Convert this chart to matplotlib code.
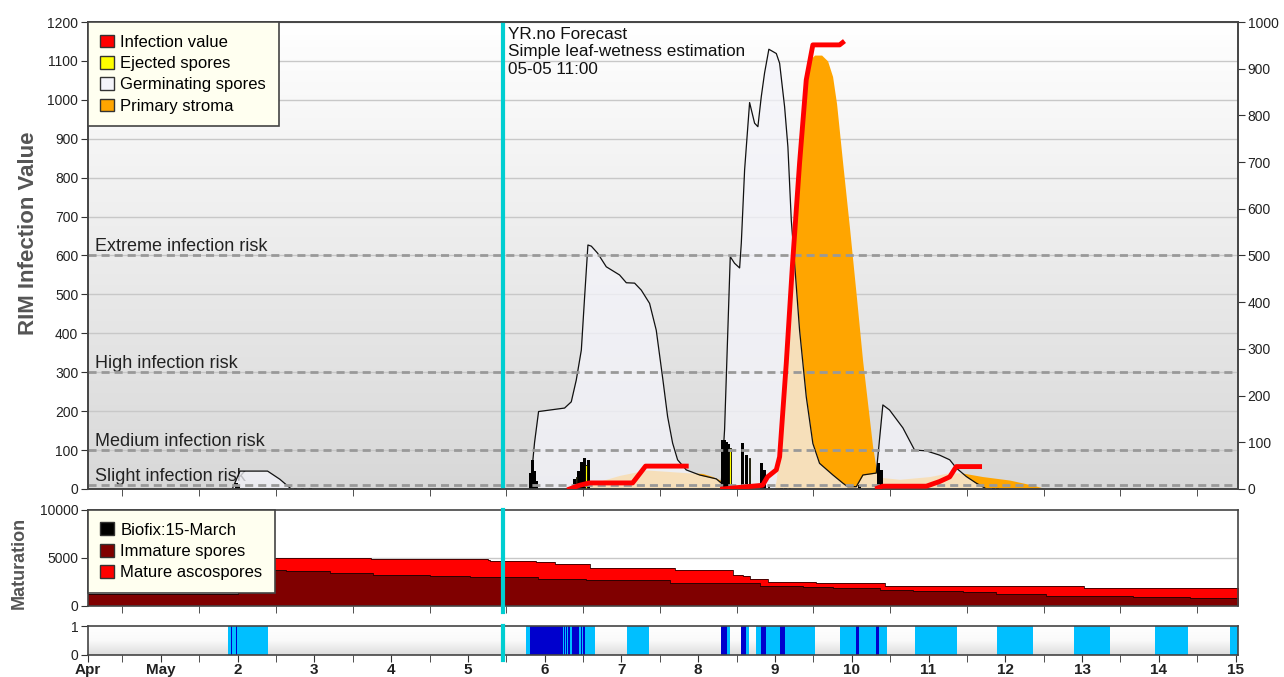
import numpy as np
import matplotlib
matplotlib.use('Agg')
import matplotlib.pyplot as plt
from matplotlib.patches import Patch
from matplotlib.colors import LinearSegmentedColormap

plt.rcParams['font.family'] = ['Liberation Sans', 'DejaVu Sans']

# x values are days after 30 April 00:00
# germinating spores (left axis)
germ_x = [1.93, 2.03, 2.39, 2.55, 2.68, 2.70,
          5.81, 5.868, 5.92, 6.259, 6.346, 6.411, 6.477, 6.52, 6.563, 6.607,
          6.689, 6.802, 6.975, 7.063, 7.171, 7.258, 7.366, 7.453, 7.54, 7.601,
          7.666, 7.731, 7.844, 8.018, 8.235, 8.30, 8.343, 8.417, 8.473, 8.539,
          8.561, 8.604, 8.669, 8.734, 8.777, 8.821, 8.864, 8.92, 9.017, 9.06,
          9.125, 9.168, 9.212, 9.255, 9.32, 9.407, 9.493, 9.58, 9.754, 9.884,
          9.945, 10.059, 10.145, 10.319, 10.405, 10.492, 10.666, 10.818, 10.971, 11.144,
          11.276, 11.361, 11.492, 11.622, 11.73, 11.75]
germ_y = [0, 46, 46, 25, 3, 0,
          0, 120, 199, 208, 224, 280, 357, 494, 627, 624,
          606, 571, 550, 530, 529, 511, 477, 408, 280, 186,
          118, 75, 49, 36, 26, 15, 152, 597, 580, 568,
          632, 820, 993, 940, 931, 1008, 1069, 1130, 1119, 1094,
          982, 879, 691, 580, 408, 237, 117, 66, 36, 15,
          6, 6, 36, 41, 216, 203, 157, 100, 98, 87,
          75, 54, 32, 15, 3, 0]

# primary stroma (left axis)
stroma_x = [6.363, 6.624, 6.975, 7.323, 7.844, 8.054, 8.187, 8.30, 8.37, 8.994,
            9.02, 9.085, 9.163, 9.242, 9.32, 9.398, 9.463, 9.515, 9.607, 9.685,
            9.75, 9.802, 9.88, 9.971, 10.062, 10.141, 10.206, 10.271, 10.323, 10.374,
            10.623, 11.013, 11.276, 11.443, 11.703, 12.055, 12.355, 12.485, 12.52]
stroma_y = [0, 15, 35, 49, 42, 40, 32, 22, 0, 0,
            30, 200, 440, 680, 870, 1030, 1105, 1115, 1115, 1100,
            1060, 990, 840, 670, 490, 330, 220, 110, 45, 30,
            25, 32, 42, 41, 32, 23, 10, 3, 0]

# infection value (right axis), nan splits the segments
inf_x = [6.324, 6.454, 6.585, 7.145, 7.314, 7.844, np.nan,
         8.317, 8.838, 8.903, 9.017, 9.06, 9.147, 9.229, 9.32, 9.407, 9.493, 9.841, 9.88, np.nan,
         10.336, 10.401, 10.971, 11.144, 11.276, 11.361, 11.665]
inf_y = [0, 8, 13, 13, 49, 49, np.nan,
         0, 8, 26, 41, 69, 270, 484, 698, 876, 951, 951, 956, np.nan,
         2, 6, 6, 16, 26, 48, 48]

# ejected spores (yellow) and discharge spikes (black)
ej_x = [6.415, 6.541, 8.417, 8.669, 8.916, 9.19]
ej_y = [32, 62, 105, 80, 10, 3]
spike_x = [1.986, 2.01, 2.75, 2.85, 2.95, 5.816, 5.842, 5.868, 5.894,
           6.389, 6.441, 6.477, 6.52, 6.572, 8.317, 8.343, 8.369, 8.395,
           8.578, 8.626, 8.821, 8.864, 9.082, 9.138, 10.10, 10.344, 10.384, 11.85, 11.9]
spike_y = [15, 10, 3, 3, 3, 40, 75, 45, 20,
           25, 45, 70, 80, 75, 126, 126, 120, 115,
           118, 87, 67, 49, 3, 3, 10, 67, 49, 3, 3]

risk_levels = [10, 100, 300, 600]
risk_names = ['Slight infection risk', 'Medium infection risk', 'High infection risk', 'Extreme infection risk']

# maturation
total_x = [0.0, 2.0, 3.741, 5.26, 5.282, 5.89, 6.129, 6.585, 7.692, 8.447, 8.578, 8.669,
           8.907, 9.538, 10.427, 11.49, 13.03, 15.1]
total_y = [1300, 4970, 4860, 4790, 4690, 4550, 4375, 3925, 3750, 3230, 3125, 2810,
           2530, 2360, 2080, 2030, 1900, 1900]
immature_x = [0.0, 2.0, 2.634, 3.198, 3.762, 4.5, 5.021, 5.911, 6.542, 7.627,
              8.799, 9.363, 9.754, 10.362, 10.796, 11.447, 11.882, 12.534, 13.662, 14.4, 15.1]
immature_y = [1300, 3750, 3680, 3400, 3230, 3125, 2990, 2780, 2710, 2360,
              2080, 1945, 1840, 1670, 1600, 1450, 1250, 1075, 970, 800, 800]

# leaf wetness
wet_start = [1.873, 5.751, 7.075, 8.30, 8.561, 8.756, 9.841, 10.827, 11.895, 12.893, 13.948, 14.93]
wet_end = [2.394, 6.65, 7.357, 8.408, 8.66, 9.515, 10.457, 11.372, 12.359, 13.358, 14.378, 15.03]
rain_start = [1.915, 1.978, 5.803, 6.252, 6.275, 6.30, 6.355, 6.47, 6.50, 8.30, 8.561, 8.812, 9.06, 10.059, 10.31]
rain_end = [1.928, 1.99, 6.237, 6.262, 6.29, 6.33, 6.45, 6.48, 6.52, 8.373, 8.626, 8.877, 9.125, 10.10, 10.353]

now = 5.458
day_ticks = [0.05] + list(range(1, 16))
day_labels = ['Apr', 'May'] + [str(d) for d in range(2, 16)]

fig = plt.figure(figsize=(12.84, 6.77), dpi=100)
ax = fig.add_axes([0.0685, 0.2777, 0.8956, 0.6898])
ax2 = ax.twinx()
axm = fig.add_axes([0.0685, 0.1049, 0.8956, 0.1418], sharex=ax)
axs = fig.add_axes([0.0685, 0.0325, 0.8956, 0.0428], sharex=ax)

grad = np.linspace(0, 1, 256).reshape(-1, 1)
cm_main = LinearSegmentedColormap.from_list('g', ['#D8D8D8', '#FFFFFF'])
ax.imshow(grad, extent=[0, 1, 0, 1], transform=ax.transAxes, cmap=cm_main,
          aspect='auto', origin='lower', zorder=0)
cm_strip = LinearSegmentedColormap.from_list('s', [(0, '#DCDCDC'), (0.5, '#FAFAFA'), (1, '#FFFFFF')])
axs.imshow(grad, extent=[0, 1, 0, 1], transform=axs.transAxes, cmap=cm_strip,
           aspect='auto', origin='lower', zorder=0)

# main chart
ax.set_axisbelow(True)
ax.yaxis.grid(True, color='#C8C8C8', lw=1)
ax.fill_between(stroma_x, stroma_y, color='#FFA500', lw=0, zorder=1.5)
ax.fill_between(germ_x, germ_y, color='#F4F4FA', alpha=0.75, lw=0, zorder=2)
ax.plot(germ_x, germ_y, color='#111111', lw=0.9, zorder=2.5)
ax.bar(spike_x, spike_y, width=0.04, color='black', zorder=3)
ax.bar(ej_x, ej_y, width=0.02, color='#FFFF00', edgecolor='black', linewidth=0.6, zorder=3.5)
for lvl, name in zip(risk_levels, risk_names):
    ax.axhline(lvl, color='#999999', lw=2, ls=(0, (2.9, 1.8)), zorder=4)
    ax.annotate(name, xy=(0.006, lvl), xycoords=('axes fraction', 'data'), xytext=(0, 3),
                textcoords='offset points', fontsize=13, color='#222222', va='baseline', zorder=1.8)
ax.axvline(now, color='darkturquoise', lw=3, zorder=6)
ax.text(5.52, 1187, 'YR.no Forecast\nSimple leaf-wetness estimation\n05-05 11:00',
        va='top', ha='left', fontsize=12.3, linespacing=1.2, color='#111111', zorder=7)
ax2.plot(inf_x, inf_y, color='#FF0000', lw=3.5, zorder=5)

ax.set_ylim(0, 1200)
ax.set_yticks(range(0, 1300, 100))
ax2.set_ylim(0, 1000)
ax2.set_yticks(range(0, 1100, 100))
ax.set_ylabel('RIM Infection Value', fontsize=16, fontweight='bold', color='#555555')
ax.yaxis.set_label_coords(-0.043, 0.548)
ax.tick_params(axis='x', bottom=False, labelbottom=False)

leg = ax2.legend(handles=[Patch(facecolor='#FF0000', edgecolor='#333333', label='Infection value'),
                          Patch(facecolor='#FFFF00', edgecolor='#333333', label='Ejected spores'),
                          Patch(facecolor='#F4F4FA', edgecolor='#333333', label='Germinating spores'),
                          Patch(facecolor='#FFA500', edgecolor='#333333', label='Primary stroma')],
                 loc='upper left', bbox_to_anchor=(0, 1), borderaxespad=0, fancybox=False,
                 facecolor='#FFFFF0', edgecolor='#444444', framealpha=1, fontsize=12,
                 handlelength=0.8, handleheight=0.8, handletextpad=0.4, labelspacing=0.37, borderpad=0.75)
leg.get_frame().set_linewidth(1.2)
leg.set_zorder(10)

# maturation
axm.axhline(5000, color='#C8C8C8', lw=1, zorder=0.5)
axm.fill_between(total_x, total_y, step='post', color='#FF0000', lw=0, zorder=1)
axm.fill_between(immature_x, immature_y, step='post', color='#800000', lw=0, zorder=2)
axm.step(total_x, total_y, where='post', color='#300000', lw=0.6, zorder=2.5)
axm.step(immature_x, immature_y, where='post', color='#200000', lw=0.6, zorder=2.5)
axm.axvline(now, ymin=-0.0625, ymax=1, color='darkturquoise', lw=3, zorder=6, clip_on=False)
axm.set_ylim(0, 10000)
axm.set_yticks([0, 5000, 10000])
axm.set_ylabel('Maturation', fontsize=13, fontweight='bold', color='#555555')
axm.yaxis.set_label_coords(-0.052, 0.45)
axm.tick_params(axis='x', bottom=False, labelbottom=False)
leg2 = axm.legend(handles=[Patch(facecolor='black', edgecolor='#333333', label='Biofix:15-March'),
                           Patch(facecolor='#800000', edgecolor='#333333', label='Immature spores'),
                           Patch(facecolor='#FF0000', edgecolor='#333333', label='Mature ascospores')],
                  loc='upper left', bbox_to_anchor=(0, 1), borderaxespad=0, fancybox=False,
                  facecolor='#FFFFF0', edgecolor='#444444', framealpha=1, fontsize=12,
                  handlelength=0.8, handleheight=0.8, handletextpad=0.4, labelspacing=0.37, borderpad=0.75)
leg2.get_frame().set_linewidth(1.2)
leg2.set_zorder(10)

# leaf wetness strip
for s, e in zip(wet_start, wet_end):
    axs.axvspan(s, e, color='#00BFFF', lw=0, zorder=1)
for s, e in zip(rain_start, rain_end):
    axs.axvspan(s, e, color='#0000CD', lw=0, zorder=2)
axs.axvline(now, ymin=-0.17, ymax=1, color='darkturquoise', lw=3, zorder=6, clip_on=False)
axs.set_ylim(0, 1)
axs.set_yticks([0, 1])
axs.set_xticks(day_ticks, day_labels, fontweight='bold', fontsize=11)
axs.set_xticks(np.arange(0.5, 15, 1), minor=True)

ax.set_xlim(0.05, 15.03)

for a in [ax, ax2, axm, axs]:
    for sp in a.spines.values():
        sp.set_color('#444444')
        sp.set_linewidth(1.2)
    a.tick_params(which='both', direction='out', length=5, color='#333333', labelsize=10, labelcolor='#222222', pad=2)
axs.tick_params(axis='x', labelsize=11, pad=1)

fig.savefig('out.png', dpi=100)
